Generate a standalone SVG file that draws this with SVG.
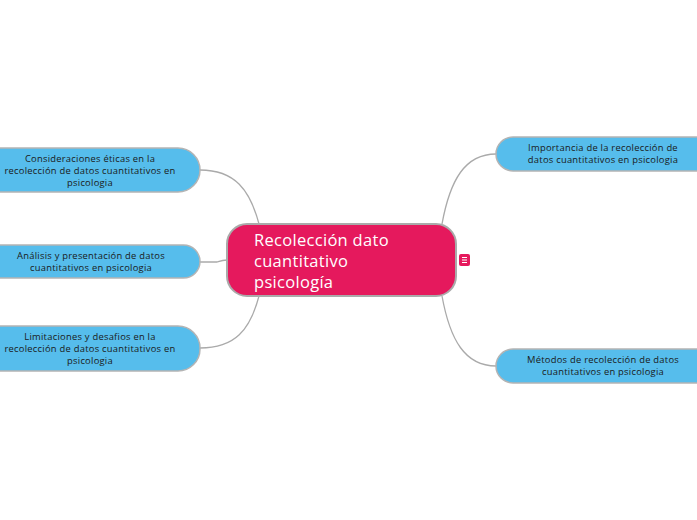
<svg xmlns="http://www.w3.org/2000/svg" width="697" height="520" viewBox="0 0 697 520">
<style>
.sub{fill:#56bdec;stroke:#b4b4b4;stroke-width:1.5}
.st{font-family:"Open Sans","DejaVu Sans",sans-serif;font-size:9.4px;letter-spacing:0.25px;fill:#1a1a1a;text-anchor:middle}
.mt{font-family:"Open Sans","DejaVu Sans",sans-serif;font-size:16.5px;letter-spacing:0.3px;fill:#ffffff}
.c{fill:none;stroke:#aaaaaa;stroke-width:1.3}
</style>
<rect width="697" height="520" fill="#ffffff"/>
<g id="connectors">
<path class="c" d="M259,224 C250,190 235,170 200,170"/>
<path class="c" d="M227,260 C222,260 220,261 217,262 L200,262"/>
<path class="c" d="M259,296 C250,330 235,348 200,348"/>
<path class="c" d="M442,224 C450,180 465,154 496,154"/>
<path class="c" d="M442,296 C450,340 465,366 496,366"/>
</g>
<g id="center">
<rect x="227" y="224" width="229" height="72" rx="20" fill="#e5195d" stroke="#aaaaaa" stroke-width="2"/>
<text class="mt" x="254" y="246">Recolección dato</text>
<text class="mt" x="254" y="267">cuantitativo</text>
<text class="mt" x="254" y="288">psicología</text>
</g>
<g id="menu-icon">
<rect x="459" y="254" width="11" height="12" rx="2" fill="#e5195d"/>
<path d="M462,257.5 H467 M462,260 H467 M462,262.5 H467" stroke="#ffffff" stroke-width="1"/>
</g>
<g id="n-eticas">
<rect class="sub" x="-30" y="148" width="230" height="44" rx="22"/>
<text class="st" x="90" y="162">Consideraciones éticas en la</text>
<text class="st" x="90" y="174">recolección de datos cuantitativos en</text>
<text class="st" x="90" y="186">psicologia</text>
</g>
<g id="n-analisis">
<rect class="sub" x="-30" y="245" width="230" height="33" rx="16.5"/>
<text class="st" x="91" y="259">Análisis y presentación de datos</text>
<text class="st" x="91" y="271">cuantitativos en psicologia</text>
</g>
<g id="n-limitaciones">
<rect class="sub" x="-30" y="326" width="230" height="45" rx="22"/>
<text class="st" x="90" y="340">Limitaciones y desafios en la</text>
<text class="st" x="90" y="352">recolección de datos cuantitativos en</text>
<text class="st" x="90" y="364">psicologia</text>
</g>
<g id="n-importancia">
<rect class="sub" x="496" y="137" width="240" height="34" rx="17"/>
<text class="st" x="603" y="151">Importancia de la recolección de</text>
<text class="st" x="603" y="163">datos cuantitativos en psicologia</text>
</g>
<g id="n-metodos">
<rect class="sub" x="496" y="349" width="240" height="34" rx="17"/>
<text class="st" x="603" y="363">Métodos de recolección de datos</text>
<text class="st" x="603" y="375">cuantitativos en psicologia</text>
</g>
</svg>
